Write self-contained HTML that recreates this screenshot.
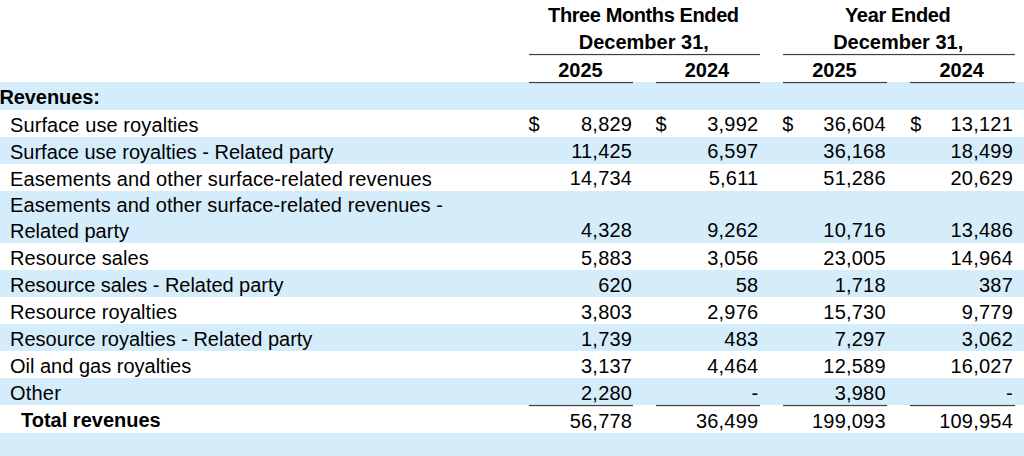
<!DOCTYPE html>
<html><head><meta charset="utf-8"><style>
html,body{margin:0;padding:0;background:#fff;}
body{width:1024px;height:456px;overflow:hidden;position:relative;font-family:"Liberation Sans",sans-serif;font-size:20px;color:#000;}
.r{position:absolute;left:0;width:1024px;}
.b{background:#D5EDFA;}
.t{position:absolute;white-space:nowrap;line-height:20px;height:20px;}
.bd{font-weight:bold;}
.n{position:absolute;white-space:nowrap;line-height:20px;height:20px;text-align:right;width:120px;letter-spacing:0.22px;}
.ln{position:absolute;height:1px;background:#404040;box-shadow:0 1px 0 rgba(0,0,0,0.10),0 -1px 0 rgba(0,0,0,0.05);}
</style></head><body>

<div class="r b" style="top:82.0px;height:28.0px"></div>
<div class="r b" style="top:137.0px;height:27.0px"></div>
<div class="r b" style="top:191.0px;height:52.0px"></div>
<div class="r b" style="top:270.0px;height:27.0px"></div>
<div class="r b" style="top:324.0px;height:27.0px"></div>
<div class="r b" style="top:378.0px;height:27.0px"></div>
<div class="r b" style="top:433.0px;height:23.0px"></div>
<div class="t bd" style="top:4.87px;left:493.4px;width:300px;text-align:center;letter-spacing:-0.4px;">Three Months Ended</div>
<div class="t bd" style="top:31.77px;left:493.79999999999995px;width:300px;text-align:center;">December 31,</div>
<div class="t bd" style="top:4.87px;left:747.7px;width:300px;text-align:center;letter-spacing:-0.35px;">Year Ended</div>
<div class="t bd" style="top:31.77px;left:748.2px;width:300px;text-align:center;">December 31,</div>
<div class="t bd" style="top:59.57px;left:430.4px;width:300px;text-align:center;">2025</div>
<div class="t bd" style="top:59.57px;left:557.0px;width:300px;text-align:center;">2024</div>
<div class="t bd" style="top:59.57px;left:684.5px;width:300px;text-align:center;">2025</div>
<div class="t bd" style="top:59.57px;left:811.7px;width:300px;text-align:center;">2024</div>
<div class="ln" style="top:53.9px;left:529px;width:231px"></div>
<div class="ln" style="top:53.9px;left:783.3px;width:231.5px"></div>
<div class="ln" style="top:81.8px;left:529px;width:104px"></div>
<div class="ln" style="top:404.7px;left:529px;width:104px"></div>
<div class="ln" style="top:81.8px;left:656px;width:104px"></div>
<div class="ln" style="top:404.7px;left:656px;width:104px"></div>
<div class="ln" style="top:81.8px;left:783px;width:104.39999999999998px"></div>
<div class="ln" style="top:404.7px;left:783px;width:104.39999999999998px"></div>
<div class="ln" style="top:81.8px;left:910.4px;width:104.39999999999998px"></div>
<div class="ln" style="top:404.7px;left:910.4px;width:104.39999999999998px"></div>
<div class="t bd" style="top:87.37px;left:-0.6px;letter-spacing:-0.08px;">Revenues:</div>
<div class="t" style="top:114.87px;left:10px;letter-spacing:0.09px;">Surface use royalties</div>
<div class="t" style="top:141.87px;left:10px;">Surface use royalties - Related party</div>
<div class="t" style="top:168.87px;left:10px;letter-spacing:0.11px;">Easements and other surface-related revenues</div>
<div class="t" style="top:195.27px;left:10px;letter-spacing:0.085px;">Easements and other surface-related revenues -</div>
<div class="t" style="top:220.57px;left:10px;">Related party</div>
<div class="t" style="top:248.17px;left:10px;letter-spacing:0.07px;">Resource sales</div>
<div class="t" style="top:275.17px;left:10px;letter-spacing:-0.04px;">Resource sales - Related party</div>
<div class="t" style="top:302.07px;left:10px;letter-spacing:0.08px;">Resource royalties</div>
<div class="t" style="top:329.17px;left:10px;">Resource royalties - Related party</div>
<div class="t" style="top:356.17px;left:10px;">Oil and gas royalties</div>
<div class="t" style="top:383.17px;left:10px;letter-spacing:0.2px;">Other</div>
<div class="t bd" style="top:410.17px;left:21px;">Total revenues</div>
<div class="n" style="top:114.37px;left:512.20px">8,829</div>
<div class="t" style="top:114.37px;left:528.6px">$</div>
<div class="n" style="top:114.37px;left:638.40px">3,992</div>
<div class="t" style="top:114.37px;left:655.6px">$</div>
<div class="n" style="top:114.37px;left:765.80px">36,604</div>
<div class="t" style="top:114.37px;left:782.2px">$</div>
<div class="n" style="top:114.37px;left:893.00px">13,121</div>
<div class="t" style="top:114.37px;left:910.2px">$</div>
<div class="n" style="top:141.37px;left:512.20px">11,425</div>
<div class="n" style="top:141.37px;left:638.40px">6,597</div>
<div class="n" style="top:141.37px;left:765.80px">36,168</div>
<div class="n" style="top:141.37px;left:893.00px">18,499</div>
<div class="n" style="top:168.37px;left:512.20px">14,734</div>
<div class="n" style="top:168.37px;left:638.40px">5,611</div>
<div class="n" style="top:168.37px;left:765.80px">51,286</div>
<div class="n" style="top:168.37px;left:893.00px">20,629</div>
<div class="n" style="top:220.07px;left:512.20px">4,328</div>
<div class="n" style="top:220.07px;left:638.40px">9,262</div>
<div class="n" style="top:220.07px;left:765.80px">10,716</div>
<div class="n" style="top:220.07px;left:893.00px">13,486</div>
<div class="n" style="top:247.67px;left:512.20px">5,883</div>
<div class="n" style="top:247.67px;left:638.40px">3,056</div>
<div class="n" style="top:247.67px;left:765.80px">23,005</div>
<div class="n" style="top:247.67px;left:893.00px">14,964</div>
<div class="n" style="top:274.67px;left:512.20px">620</div>
<div class="n" style="top:274.67px;left:638.40px">58</div>
<div class="n" style="top:274.67px;left:765.80px">1,718</div>
<div class="n" style="top:274.67px;left:893.00px">387</div>
<div class="n" style="top:301.57px;left:512.20px">3,803</div>
<div class="n" style="top:301.57px;left:638.40px">2,976</div>
<div class="n" style="top:301.57px;left:765.80px">15,730</div>
<div class="n" style="top:301.57px;left:893.00px">9,779</div>
<div class="n" style="top:328.67px;left:512.20px">1,739</div>
<div class="n" style="top:328.67px;left:638.40px">483</div>
<div class="n" style="top:328.67px;left:765.80px">7,297</div>
<div class="n" style="top:328.67px;left:893.00px">3,062</div>
<div class="n" style="top:355.67px;left:512.20px">3,137</div>
<div class="n" style="top:355.67px;left:638.40px">4,464</div>
<div class="n" style="top:355.67px;left:765.80px">12,589</div>
<div class="n" style="top:355.67px;left:893.00px">16,027</div>
<div class="n" style="top:382.67px;left:512.20px">2,280</div>
<div class="n" style="top:382.67px;left:638.40px">-</div>
<div class="n" style="top:382.67px;left:765.80px">3,980</div>
<div class="n" style="top:382.67px;left:893.00px">-</div>
<div class="n" style="top:410.77px;left:512.20px">56,778</div>
<div class="n" style="top:410.77px;left:638.40px">36,499</div>
<div class="n" style="top:410.77px;left:765.80px">199,093</div>
<div class="n" style="top:410.77px;left:893.00px">109,954</div>
</body></html>
